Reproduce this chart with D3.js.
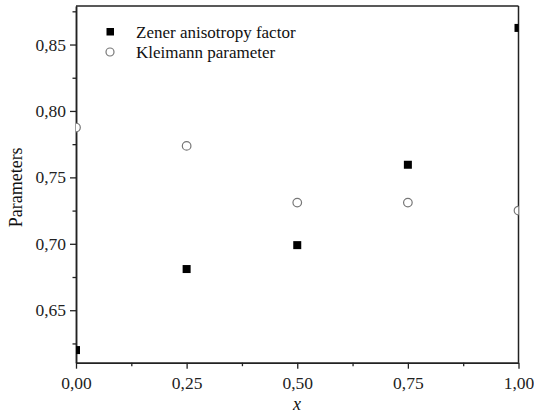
<!DOCTYPE html>
<html><head><meta charset="utf-8">
<script src="https://cdn.jsdelivr.net/npm/d3@7"></script>
<style>body{margin:0;background:#fff}svg{display:block}text{font-family:"Liberation Serif","Times New Roman",serif}</style>
</head><body><svg id="c" width="534" height="416"></svg>
<script>
const xVals = [0, 0.25, 0.5, 0.75, 1.0];
const zener = [0.620, 0.681, 0.699, 0.7595, 0.8625];
const kleimann = [0.7875, 0.7737, 0.731, 0.731, 0.725];
const xTicks = [0, 0.25, 0.5, 0.75, 1.0];
const yTicks = [0.65, 0.70, 0.75, 0.80, 0.85];
const seriesNames = ["Zener anisotropy factor", "Kleimann parameter"];

const svg = d3.select("#c");
const L = 76, R = 518.5, T = 6, B = 362.7;
const x = d3.scaleLinear().domain([0, 1]).range([L, R]);
const y = d3.scaleLinear().domain([0.6105, 0.879]).range([B, T]);
const fmt = d => d.toFixed(2).replace(".", ",");

svg.append("clipPath").attr("id", "clip").append("rect")
  .attr("x", L).attr("y", T).attr("width", R - L).attr("height", B - T);

const xMinor = [0.125, 0.375, 0.625, 0.875];
const yMinor = [0.625, 0.675, 0.725, 0.775, 0.825, 0.875];

const xAxis = svg.append("g").attr("transform", `translate(0,${B})`)
  .call(d3.axisBottom(x).tickValues(xTicks).tickFormat(fmt).tickSize(6).tickSizeOuter(0));
svg.append("g").attr("transform", `translate(0,${B})`)
  .call(d3.axisBottom(x).tickValues(xMinor).tickFormat("").tickSize(3.5).tickSizeOuter(0));
const yAxis = svg.append("g").attr("transform", `translate(${L},0)`)
  .call(d3.axisLeft(y).tickValues(yTicks).tickFormat(fmt).tickSize(6).tickSizeOuter(0));
svg.append("g").attr("transform", `translate(${L},0)`)
  .call(d3.axisLeft(y).tickValues(yMinor).tickFormat("").tickSize(3.5).tickSizeOuter(0));

svg.selectAll(".domain").attr("stroke", "#222").attr("stroke-width", 1.5);
svg.selectAll(".tick line").attr("stroke", "#222").attr("stroke-width", 1.3);
svg.selectAll(".tick text").attr("font-family", "Liberation Serif").attr("font-size", 17.5).attr("fill", "#222");
xAxis.selectAll(".tick text").attr("dy", "1.0em");
yAxis.selectAll(".tick text").attr("x", -10);

svg.append("line").attr("x1", L).attr("x2", R).attr("y1", T).attr("y2", T).attr("stroke", "#222").attr("stroke-width", 1.5);
svg.append("line").attr("x1", R).attr("x2", R).attr("y1", T).attr("y2", B).attr("stroke", "#222").attr("stroke-width", 1.5);

const plot = svg.append("g").attr("clip-path", "url(#clip)");
const s = 8;
plot.selectAll(".sq").data(xVals.map((v, i) => [v, zener[i]])).enter().append("rect")
  .attr("x", d => x(d[0]) - s / 2).attr("y", d => y(d[1]) - s / 2)
  .attr("width", s).attr("height", s).attr("fill", "#000");
plot.selectAll(".ci").data(xVals.map((v, i) => [v, kleimann[i]])).enter().append("circle")
  .attr("cx", d => x(d[0])).attr("cy", d => y(d[1])).attr("r", 4.3)
  .attr("fill", "#fff").attr("stroke", "#777").attr("stroke-width", 1.2);

svg.append("rect").attr("x", 106.5).attr("y", 28).attr("width", 7.5).attr("height", 7.5).attr("fill", "#000");
svg.append("circle").attr("cx", 110).attr("cy", 52).attr("r", 4).attr("fill", "#fff").attr("stroke", "#777").attr("stroke-width", 1.2);
svg.append("text").attr("x", 136).attr("y", 37.5).attr("font-size", 17).attr("fill", "#111").text(seriesNames[0]);
svg.append("text").attr("x", 136).attr("y", 57.5).attr("font-size", 17).attr("fill", "#111").text(seriesNames[1]);

svg.append("text").attr("x", 297).attr("y", 410).attr("text-anchor", "middle")
  .attr("font-size", 18).attr("font-style", "italic").attr("fill", "#111").text("x");
svg.append("text").attr("transform", `translate(22,${(T + B) / 2 + 3}) rotate(-90)`).attr("text-anchor", "middle")
  .attr("font-size", 18).attr("fill", "#111").text("Parameters");
</script></body></html>
